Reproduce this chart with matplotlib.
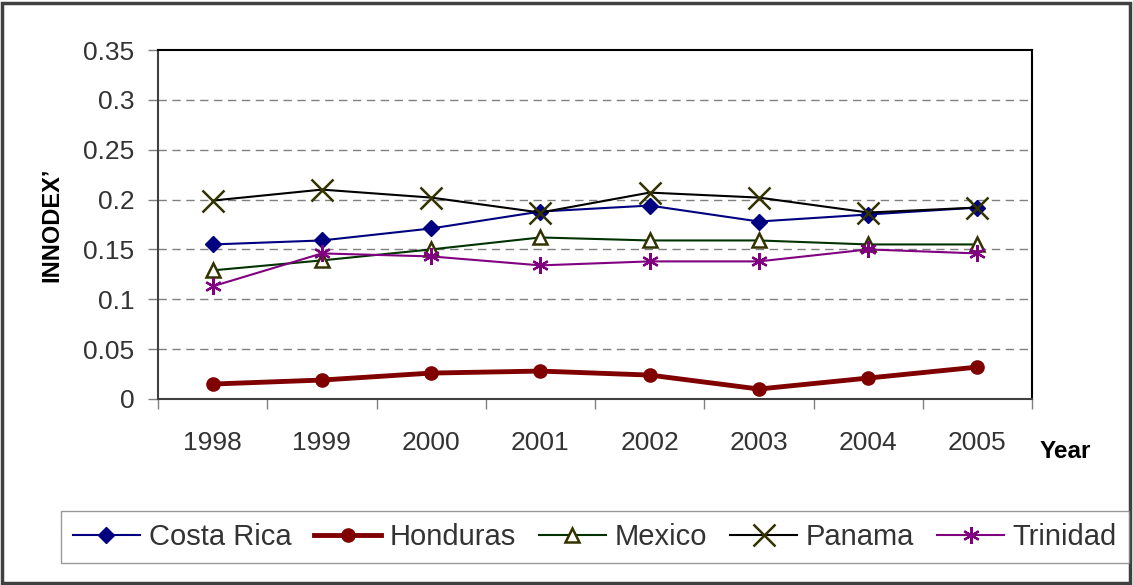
import matplotlib.pyplot as plt
from matplotlib.patches import Rectangle
from matplotlib.ticker import FixedLocator

plt.rcParams['font.family'] = ['Liberation Sans', 'DejaVu Sans']

# -----------------------------
# DATA
# -----------------------------
years = ["1998", "1999", "2000", "2001", "2002", "2003", "2004", "2005"]

costa_rica = [0.155, 0.159, 0.171, 0.188, 0.194, 0.178, 0.185, 0.192]
honduras = [0.015, 0.019, 0.026, 0.028, 0.024, 0.010, 0.021, 0.032]
mexico = [0.129, 0.139, 0.150, 0.162, 0.159, 0.159, 0.155, 0.155]
panama = [0.199, 0.210, 0.202, 0.187, 0.207, 0.202, 0.187, 0.192]
trinidad = [0.113, 0.146, 0.143, 0.134, 0.138, 0.138, 0.150, 0.146]

y_ticks = [0, 0.05, 0.1, 0.15, 0.2, 0.25, 0.3, 0.35]
y_tick_labels = ["0", "0.05", "0.1", "0.15", "0.2", "0.25", "0.3", "0.35"]

# -----------------------------
# FIGURE
# -----------------------------
fig = plt.figure(figsize=(11.33, 5.85), dpi=100)
ax = fig.add_axes([158 / 1133, 1 - 399 / 585, 874 / 1133, 349 / 585])

x = [i + 0.5 for i in range(len(years))]

ax.plot(x, costa_rica, color="#000080", linewidth=1.5, marker="D", markersize=8,
        markerfacecolor="#000080", markeredgecolor="#000080", label="Costa Rica")
ax.plot(x, honduras, color="#800000", linewidth=3.5, marker="o", markersize=9.5,
        markerfacecolor="#800000", markeredgecolor="#800000", label="Honduras")
ax.plot(x, mexico, color="#003300", linewidth=1.5, marker="^", markersize=10,
        markerfacecolor="white", markeredgecolor="#333300", markeredgewidth=1.8, label="Mexico")
ax.plot(x, panama, color="#000000", linewidth=1.5, marker="x", markersize=16,
        markeredgecolor="#333300", markeredgewidth=1.8, label="Panama")
ax.plot(x, trinidad, color="#800080", linewidth=1.5, marker=(6, 2, 0), markersize=12,
        markeredgecolor="#800080", markeredgewidth=1.6, label="Trinidad")

ax.set_xlim(0, len(years))
ax.set_ylim(0, 0.35)

ax.set_yticks(y_ticks)
ax.set_yticklabels(y_tick_labels)
ax.set_xticks(x)
ax.set_xticklabels(years)
ax.xaxis.set_minor_locator(FixedLocator(range(len(years) + 1)))

ax.tick_params(axis="y", direction="out", length=7, width=1, color="#808080",
               labelsize=19, labelcolor="#333333", pad=10)
ax.tick_params(axis="x", which="major", length=0, labelsize=19, labelcolor="#333333", pad=23)
ax.tick_params(axis="x", which="minor", direction="out", length=7, width=1, color="#808080")

# dashed grid lines, not on the top edge
for yv in y_ticks[1:-1]:
    ax.axhline(yv, color="#808080", linewidth=1, linestyle=(0, (6, 4)), zorder=0)

ax.spines["top"].set_color("black")
ax.spines["right"].set_color("black")
ax.spines["left"].set_color("#404040")
ax.spines["bottom"].set_color("#404040")
for s in ax.spines.values():
    s.set_linewidth(1.5)

ax.set_ylabel("INNODEX\u2019", fontsize=17, fontweight="bold", labelpad=14)
fig.text(1040 / 1133, 1 - 452 / 585, "Year", fontsize=17.5, fontweight="bold",
         ha="left", va="center")

leg = fig.legend(loc="center", bbox_to_anchor=(595 / 1133, 1 - 537 / 585), ncol=5,
                 fontsize=21, frameon=True, fancybox=False, edgecolor="#808080",
                 handlelength=2.3, handletextpad=0.3, columnspacing=0.78,
                 borderpad=0.4, borderaxespad=0)
leg.get_frame().set_linewidth(1)
for t in leg.get_texts():
    t.set_color("#333333")

# outer frame
fig.patches.append(Rectangle((2 / 1133, 2 / 585), 1128 / 1133, 580 / 585,
                             transform=fig.transFigure, fill=False,
                             edgecolor="#404040", linewidth=2.5))

fig.savefig("out.png", dpi=100)
